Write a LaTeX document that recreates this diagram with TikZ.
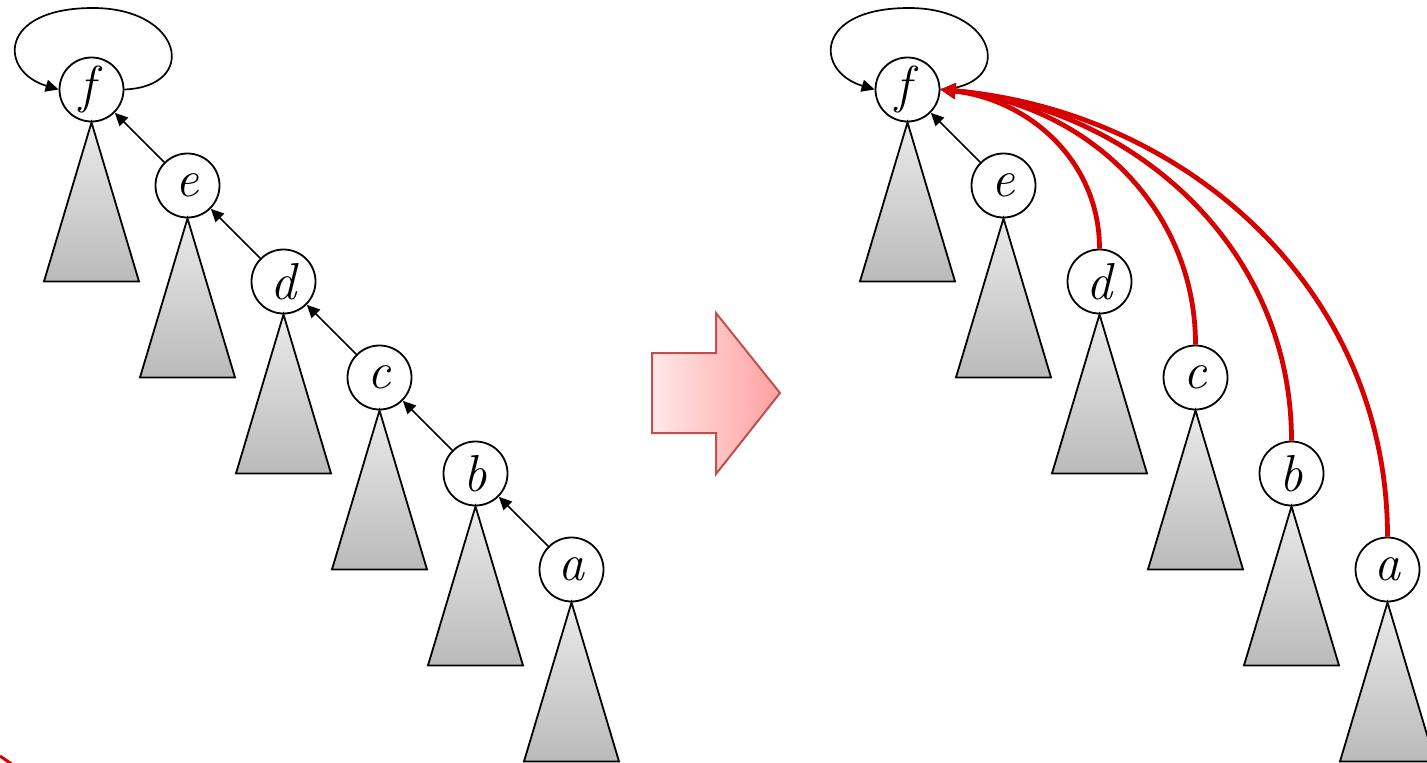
\documentclass[tikz,border=0pt]{standalone}
\usetikzlibrary{arrows.meta}
\definecolor{treetop}{RGB}{234,234,234}
\definecolor{treebot}{RGB}{186,186,186}
\definecolor{redc}{RGB}{215,0,0}
\definecolor{arrborder}{RGB}{192,80,77}
\definecolor{arrleft}{RGB}{255,232,232}
\definecolor{arrright}{RGB}{255,160,160}
\begin{document}
\begin{tikzpicture}[x=1pt,y=-1pt,
  vert/.style={circle,draw,line width=1.8pt,fill=white,minimum size=64pt,inner sep=0pt,font=\fontsize{52}{52}\selectfont\itshape},
  tree/.style={draw,line width=1.8pt,line join=miter,top color=treetop,bottom color=treebot},
  arr/.style={line width=1.7pt,-{Triangle[length=13pt,width=12pt]}},
  redarr/.style={line width=4.8pt,draw=redc,-{Triangle[length=15pt,width=15pt]}},
  bigarrow/.style={line width=2pt,draw=arrborder,left color=arrleft,right color=arrright}
]
\useasboundingbox (0,0) rectangle (1427,763);
% left tree
\node[vert] (Lf) at (91.5,89.5) {f\/};
\node[vert] (Le) at (187.5,185.5) {e};
\node[vert] (Ld) at (283.5,281.5) {d};
\node[vert] (Lc) at (379.5,377.5) {c};
\node[vert] (Lb) at (475.5,473.5) {b};
\node[vert] (La) at (571.5,569.5) {a};
% right tree
\node[vert] (Rf) at (907.5,89.5) {f\/};
\node[vert] (Re) at (1003.5,185.5) {e};
\node[vert] (Rd) at (1099.5,281.5) {d};
\node[vert] (Rc) at (1195.5,377.5) {c};
\node[vert] (Rb) at (1291.5,473.5) {b};
\node[vert] (Ra) at (1387.5,569.5) {a};
% subtrees
\foreach \n in {Lf,Le,Ld,Lc,Lb,La,Rf,Re,Rd,Rc,Rb,Ra}
  \draw[tree] (\n.south) -- ++(-47.5,159) -- ++(95,0) -- cycle;
% left parent pointers
\draw[arr] (Le) -- (Lf);
\draw[arr] (Ld) -- (Le);
\draw[arr] (Lc) -- (Ld);
\draw[arr] (Lb) -- (Lc);
\draw[arr] (La) -- (Lb);
\draw[arr] (Lf.east) .. controls +(75,-3) and +(90,0) .. ++(-31.5,-81.5)
  .. controls +(-95,0) and +(-60,-18) .. (Lf.west);
% right parent pointers
\draw[arr] (Re) -- (Rf);
\draw[arr] (Rf.east) .. controls +(75,-3) and +(90,0) .. ++(-31.5,-81.5)
  .. controls +(-95,0) and +(-60,-18) .. (Rf.west);
\draw[redarr] (Rd.north) .. controls +(0,-88) and +(88,10) .. (Rf.east);
\draw[redarr] (Rc.north) .. controls +(0,-141) and +(141,14) .. (Rf.east);
\draw[redarr] (Rb.north) .. controls +(0,-194) and +(193,18) .. (Rf.east);
\draw[redarr] (Ra.north) .. controls +(0,-247) and +(246,22) .. (Rf.east);
% big arrow
\draw[bigarrow] (652,353) -- (716,353) -- (716,313) -- (780,393) -- (716,474) -- (716,433) -- (652,433) -- cycle;
% small red stroke at lower left
\draw[redc,line width=3pt] (0,756) -- (13,765);
\end{tikzpicture}
\end{document}
